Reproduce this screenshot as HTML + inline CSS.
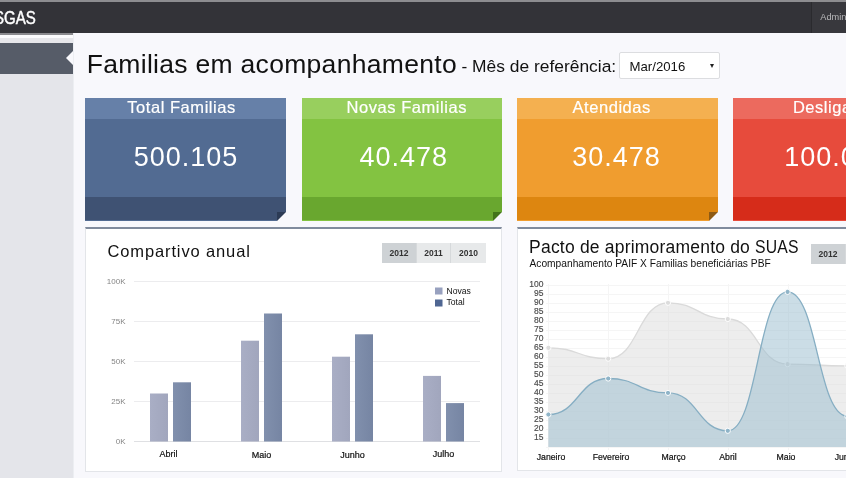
<!DOCTYPE html>
<html lang="pt-BR">
<head>
<meta charset="utf-8">
<title>SGAS - Familias em acompanhamento</title>
<style>
*{box-sizing:border-box;margin:0;padding:0}
html,body{width:846px;height:478px;overflow:hidden}
body{position:relative;background:#f8f8fc;font-family:"Liberation Sans",sans-serif;color:#111}
.abs{position:absolute}
#topstrip{left:0;top:0;width:846px;height:2px;background:#8d8d90}
#header{left:0;top:2px;width:846px;height:30.5px;background:#333338}
#brand{left:-6.5px;top:8.4px;font-size:17.5px;line-height:20px;color:#fff;white-space:nowrap;transform-origin:0 0;transform:scaleX(.86);-webkit-text-stroke:.45px #fff}
#hdiv{left:811px;top:2px;width:1px;height:30.5px;background:#2a2a2e}
#hright{left:812px;top:2px;width:34px;height:30.5px;background:#38383d}
#admin{left:820.3px;top:11.4px;font-size:9.2px;line-height:12px;color:#b9b9bb;white-space:nowrap}
#sidebar{left:0;top:33px;width:73px;height:445px;background:#e4e5ea}
#sidetop{left:0;top:32.5px;width:73px;height:10.5px;background:linear-gradient(#8a8a8e 0,#8a8a8e 1.8px,#fbfbfd 1.8px,#fbfbfd 4.9px,#e7e7eb 4.9px)}
#sideactive{left:0;top:43px;width:73px;height:30.9px;background:#565c68}
#notch{left:65.5px;top:51px;width:0;height:0;border-top:7.2px solid transparent;border-bottom:7.2px solid transparent;border-right:7.5px solid #f8f8fc}
#sideedge{left:73px;top:33px;width:1px;height:445px;background:#eceef2}

#title{left:86.8px;top:49px;font-size:26.5px;line-height:30px;letter-spacing:.3px;white-space:nowrap;color:#111}
#subtitle{left:461.5px;top:56px;font-size:17.4px;line-height:20px;white-space:nowrap;color:#111}
#select{left:619px;top:52px;width:101px;height:27px;background:#fff;border:1px solid #dcdde0;border-radius:2px}
#select span{position:absolute;left:9.5px;top:6px;font-size:13.2px;line-height:15px;color:#111}
#select i{position:absolute;left:90px;top:11px;width:0;height:0;border-left:2.5px solid transparent;border-right:2.5px solid transparent;border-top:4.5px solid #222}

.card{top:97.5px;width:200.3px;height:123px;color:#fff;text-align:center;overflow:hidden}
.card .h{position:absolute;left:0;top:0;width:100%;height:21px;font-size:16.5px;line-height:19.5px;letter-spacing:.55px;white-space:nowrap;-webkit-text-stroke:.2px #fff}
.card .b{position:absolute;left:0;top:21px;width:100%;height:79px}
.card .n{position:absolute;left:0;top:43.5px;width:100%;font-size:27px;line-height:32px;letter-spacing:1px;white-space:nowrap}
.card .f{position:absolute;left:0;top:99.5px;width:100%;height:23px}
.card .c1{position:absolute;right:0;bottom:0;width:0;height:0;border-left:9px solid transparent;border-bottom:9px solid #f8f8fc}
.card .c2{position:absolute;right:0;bottom:0;width:0;height:0;border-right:9px solid transparent;border-top:9px solid rgba(0,0,0,.3);transform:translate(0,0)}
.card .c0{position:absolute;right:0;bottom:0;width:9px;height:9px}

.panel{top:227px;height:245.7px;background:#fff;border:1px solid #e3e5e9;border-top:2px solid #808b9d}
.btns{top:242.7px;height:20.5px;display:flex;font-size:8.5px;font-weight:bold;color:#333;line-height:20px;text-align:center}
.btns b{display:block;height:20.5px;background:#e7e9ea;border-right:1px solid #d6d9db}
.btns b.on{background:#ced2d5}
svg text{font-family:"Liberation Sans",sans-serif}
</style>
</head>
<body>
<div id="topstrip" class="abs"></div>
<div id="header" class="abs"></div>
<div id="hright" class="abs"></div>
<div id="hdiv" class="abs"></div>
<div id="brand" class="abs">SGAS</div>
<div id="admin" class="abs">Administrador</div>

<div id="sidebar" class="abs"></div>
<div id="sidetop" class="abs"></div>
<div id="sideactive" class="abs"></div>
<div id="notch" class="abs"></div>
<div id="sideedge" class="abs"></div>

<div id="title" class="abs">Familias em acompanhamento</div>
<div id="subtitle" class="abs">- Mês de referência:</div>
<div id="select" class="abs"><span>Mar/2016</span><i></i></div>

<div class="card abs" style="left:85.4px;background:#526b92">
  <div class="h" style="background:#6680a8;padding-right:8px">Total Familias</div>
  <div class="n" style="padding-left:1px">500.105</div>
  <div class="f" style="background:#3f5273"></div>
  <div class="c0" style="background:#2c3b55"></div><div class="c1"></div>
</div>
<div class="card abs" style="left:301.6px;background:#83c341">
  <div class="h" style="background:#98cf5e;padding-left:10px">Novas Familias</div>
  <div class="n" style="padding-left:4px">40.478</div>
  <div class="f" style="background:#69a72f"></div>
  <div class="c0" style="background:#42741a"></div><div class="c1"></div>
</div>
<div class="card abs" style="left:517.3px;background:#f09d2f">
  <div class="h" style="background:#f4b050;padding-right:11.5px">Atendidas</div>
  <div class="n" style="padding-right:2px">30.478</div>
  <div class="f" style="background:#dd8610"></div>
  <div class="c0" style="background:#8d5a14"></div><div class="c1"></div>
</div>
<div class="card abs" style="left:733.3px;background:#e74b3c">
  <div class="h" style="background:#ec6a5e;padding-left:6px">Desligadas</div>
  <div class="n" style="padding-left:6px">100.000</div>
  <div class="f" style="background:#d62c1a"></div>
  <div class="c0" style="background:#8c1c10"></div><div class="c1"></div>
</div>

<div class="panel abs" style="left:85.4px;width:416.2px;height:245.3px"></div>
<div class="panel abs" style="left:517.4px;width:420px;height:244.3px"></div>

<div class="abs" style="left:107.5px;top:241px;font-size:16.5px;line-height:20px;letter-spacing:.87px;white-space:nowrap">Compartivo anual</div>
<div class="btns abs" style="left:382px;width:104px"><b class="on" style="width:35px">2012</b><b style="width:34px">2011</b><b style="width:35px;border-right:0">2010</b></div>

<div class="abs" style="left:529.1px;top:237.3px;font-size:17.5px;line-height:20px;letter-spacing:.2px;white-space:nowrap">Pacto de aprimoramento do <span style="display:inline-block;transform-origin:0 50%;transform:scaleX(.9)">SUAS</span></div>
<div class="abs" style="left:529.5px;top:257.7px;font-size:10.22px;line-height:12px;white-space:nowrap">Acompanhamento PAIF X Familias beneficiárias PBF</div>
<div class="btns abs" style="left:811px;top:243.7px;width:104px"><b class="on" style="width:35px">2012</b><b style="width:34px">2011</b><b style="width:35px;border-right:0">2010</b></div>

<svg class="abs" style="left:0;top:0" width="846" height="478" viewBox="0 0 846 478">
  <defs>
    <linearGradient id="gn" x1="0" x2="1" y1="0" y2="0"><stop offset="0" stop-color="#a9aec5"/><stop offset="1" stop-color="#a1a6bd"/></linearGradient>
    <linearGradient id="gt" x1="0" x2="1" y1="0" y2="0"><stop offset="0" stop-color="#8190ad"/><stop offset="1" stop-color="#7685a3"/></linearGradient>
    <clipPath id="cp2"><rect x="518" y="229" width="328" height="242"/></clipPath>
  </defs>
  <!-- bar chart -->
  <g stroke="#ececee" stroke-width="1" shape-rendering="crispEdges">
    <line x1="134" x2="480" y1="281.5" y2="281.5"/>
    <line x1="134" x2="480" y1="321.5" y2="321.5"/>
    <line x1="134" x2="480" y1="361.5" y2="361.5"/>
    <line x1="134" x2="480" y1="401.5" y2="401.5"/>
    <line x1="134" x2="480" y1="441.5" y2="441.5" stroke="#dfe0e3"/>
  </g>
  <g font-size="8" fill="#858585" text-anchor="end">
    <text x="125.5" y="284.3">100K</text>
    <text x="125.5" y="324.3">75K</text>
    <text x="125.5" y="364.3">50K</text>
    <text x="125.5" y="404.3">25K</text>
    <text x="125.5" y="444.3">0K</text>
  </g>
  <g>
    <rect x="150" y="393.5" width="18" height="48" fill="url(#gn)"/>
    <rect x="173" y="382.3" width="18" height="59.2" fill="url(#gt)"/>
    <rect x="241" y="340.7" width="18" height="100.8" fill="url(#gn)"/>
    <rect x="264" y="313.5" width="18" height="128" fill="url(#gt)"/>
    <rect x="332" y="356.7" width="18" height="84.8" fill="url(#gn)"/>
    <rect x="355" y="334.3" width="18" height="107.2" fill="url(#gt)"/>
    <rect x="423" y="375.9" width="18" height="65.6" fill="url(#gn)"/>
    <rect x="446" y="403.1" width="18" height="38.4" fill="url(#gt)"/>
  </g>
  <g font-size="9" fill="#111" stroke="#111" stroke-width="0.2" text-anchor="middle">
    <text x="168.5" y="456.8">Abril</text>
    <text x="261.5" y="457.5">Maio</text>
    <text x="352.5" y="457.5">Junho</text>
    <text x="443.5" y="456.8">Julho</text>
  </g>
  <rect x="435" y="287.5" width="7.5" height="7" fill="#98a1bf"/>
  <rect x="435" y="299.5" width="7.5" height="7" fill="#4f6692"/>
  <g font-size="8.6" fill="#111">
    <text x="446.5" y="293.8">Novas</text>
    <text x="446.5" y="305.4">Total</text>
  </g>

  <!-- area chart -->
  <g clip-path="url(#cp2)">
    <g stroke="#f5f5f5" stroke-width="1" shape-rendering="crispEdges"><line x1="546" x2="846" y1="447.5" y2="447.5"/><line x1="546" x2="846" y1="438.5" y2="438.5"/><line x1="546" x2="846" y1="429.5" y2="429.5"/><line x1="546" x2="846" y1="420.5" y2="420.5"/><line x1="546" x2="846" y1="411.5" y2="411.5"/><line x1="546" x2="846" y1="402.5" y2="402.5"/><line x1="546" x2="846" y1="393.5" y2="393.5"/><line x1="546" x2="846" y1="384.5" y2="384.5"/><line x1="546" x2="846" y1="375.5" y2="375.5"/><line x1="546" x2="846" y1="366.5" y2="366.5"/><line x1="546" x2="846" y1="357.5" y2="357.5"/><line x1="546" x2="846" y1="348.5" y2="348.5"/><line x1="546" x2="846" y1="339.5" y2="339.5"/><line x1="546" x2="846" y1="330.5" y2="330.5"/><line x1="546" x2="846" y1="321.5" y2="321.5"/><line x1="546" x2="846" y1="312.5" y2="312.5"/><line x1="546" x2="846" y1="303.5" y2="303.5"/><line x1="546" x2="846" y1="294.5" y2="294.5"/><line x1="546" x2="846" y1="285.5" y2="285.5"/><line x1="548.5" x2="548.5" y1="284" y2="450"/><line x1="608.5" x2="608.5" y1="284" y2="450"/><line x1="668.5" x2="668.5" y1="284" y2="450"/><line x1="728.5" x2="728.5" y1="284" y2="450"/><line x1="788.5" x2="788.5" y1="284" y2="450"/><line x1="847.5" x2="847.5" y1="284" y2="450"/></g>
    <path d="M548.4,347.8C578.3,347.8 578.3,358.7 608.2,358.7C638.1,358.7 638.1,302.8 668.0,302.8C697.9,302.8 697.9,319.0 727.8,319.0C757.7,319.0 757.7,364.1 787.6,364.1C817.5,364.1 817.5,365.9 847.4,365.9C877.3,365.9 877.3,392.9 907.2,392.9L907.2,447L548.4,447Z" fill="rgba(220,220,220,0.5)"/>
    <path d="M548.4,347.8C578.3,347.8 578.3,358.7 608.2,358.7C638.1,358.7 638.1,302.8 668.0,302.8C697.9,302.8 697.9,319.0 727.8,319.0C757.7,319.0 757.7,364.1 787.6,364.1C817.5,364.1 817.5,365.9 847.4,365.9C877.3,365.9 877.3,392.9 907.2,392.9" fill="none" stroke="#dadada" stroke-width="1.3"/>
    <g fill="#dcdcdc" stroke="#fff" stroke-width="1"><circle cx="548.4" cy="347.8" r="2.6"/><circle cx="608.2" cy="358.7" r="2.6"/><circle cx="668.0" cy="302.8" r="2.6"/><circle cx="727.8" cy="319.0" r="2.6"/><circle cx="787.6" cy="364.1" r="2.6"/><circle cx="847.4" cy="365.9" r="2.6"/><circle cx="907.2" cy="392.9" r="2.6"/></g>
    <path d="M548.4,414.5C578.3,414.5 578.3,378.5 608.2,378.5C638.1,378.5 638.1,392.9 668.0,392.9C697.9,392.9 697.9,430.8 727.8,430.8C757.7,430.8 757.7,291.9 787.6,291.9C817.5,291.9 817.5,416.3 847.4,416.3C877.3,416.3 877.3,284.7 907.2,284.7L907.2,447L548.4,447Z" fill="rgba(151,187,205,0.5)"/>
    <path d="M548.4,414.5C578.3,414.5 578.3,378.5 608.2,378.5C638.1,378.5 638.1,392.9 668.0,392.9C697.9,392.9 697.9,430.8 727.8,430.8C757.7,430.8 757.7,291.9 787.6,291.9C817.5,291.9 817.5,416.3 847.4,416.3C877.3,416.3 877.3,284.7 907.2,284.7" fill="none" stroke="#86aec3" stroke-width="1.3"/>
    <g fill="#8fb4c8" stroke="#fff" stroke-width="1"><circle cx="548.4" cy="414.5" r="2.6"/><circle cx="608.2" cy="378.5" r="2.6"/><circle cx="668.0" cy="392.9" r="2.6"/><circle cx="727.8" cy="430.8" r="2.6"/><circle cx="787.6" cy="291.9" r="2.6"/><circle cx="847.4" cy="416.3" r="2.6"/><circle cx="907.2" cy="284.7" r="2.6"/></g>
  </g>
  <g font-size="8.5" fill="#4a4a4a" stroke="#4a4a4a" stroke-width="0.15" text-anchor="end"><text x="543.5" y="440.4">15</text><text x="543.5" y="431.4">20</text><text x="543.5" y="422.4">25</text><text x="543.5" y="413.3">30</text><text x="543.5" y="404.3">35</text><text x="543.5" y="395.3">40</text><text x="543.5" y="386.3">45</text><text x="543.5" y="377.3">50</text><text x="543.5" y="368.3">55</text><text x="543.5" y="359.2">60</text><text x="543.5" y="350.2">65</text><text x="543.5" y="341.2">70</text><text x="543.5" y="332.2">75</text><text x="543.5" y="323.2">80</text><text x="543.5" y="314.2">85</text><text x="543.5" y="305.2">90</text><text x="543.5" y="296.1">95</text><text x="543.5" y="287.1">100</text></g>
  <g font-size="8.7" fill="#111" stroke="#111" stroke-width="0.2" text-anchor="middle"><text x="551" y="460">Janeiro</text><text x="611" y="460">Fevereiro</text><text x="673.5" y="460">Março</text><text x="728" y="460">Abril</text><text x="786" y="460">Maio</text><text x="846.5" y="460">Junho</text></g>
</svg>
</body>
</html>
